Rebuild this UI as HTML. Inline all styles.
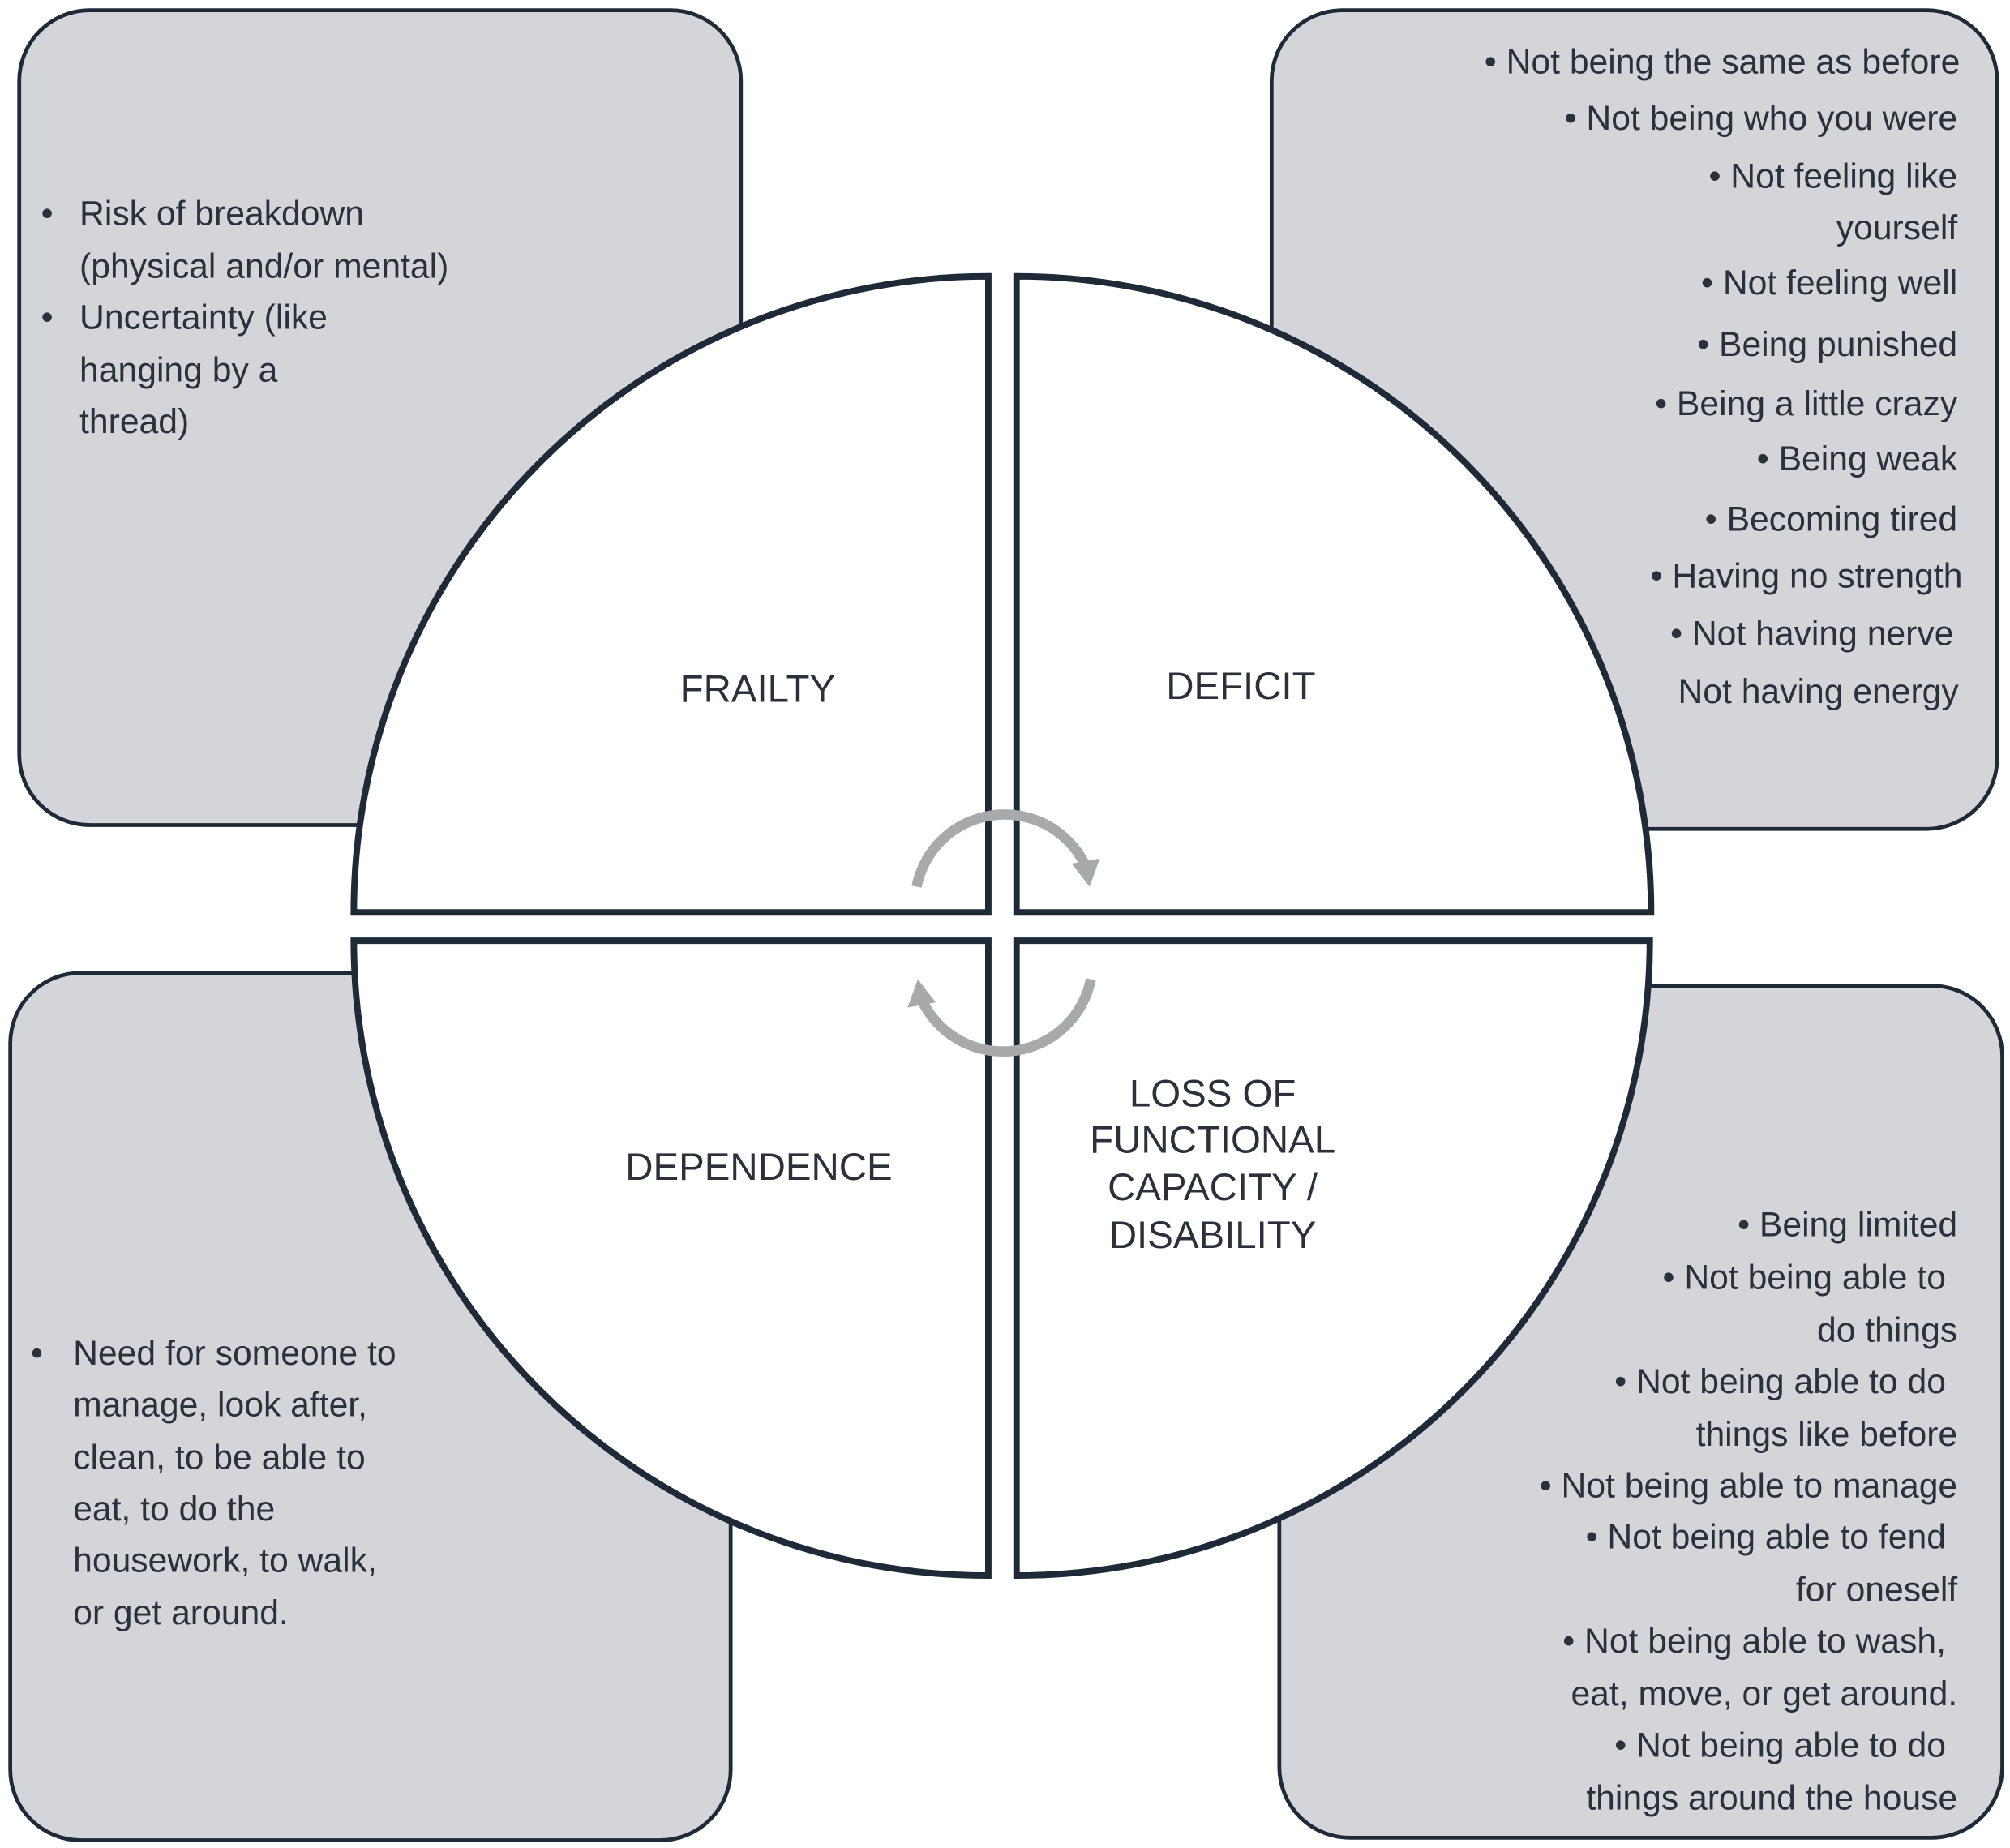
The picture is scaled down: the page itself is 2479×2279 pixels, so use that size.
<!DOCTYPE html>
<html><head><meta charset="utf-8"><style>
html,body{margin:0;padding:0;background:#fff;}
svg{display:block;}
text{font-family:"Liberation Sans",sans-serif;fill:#2b303a;}
</style></head><body>
<svg width="2479" height="2279" viewBox="0 0 1568 1438" preserveAspectRatio="none" xmlns="http://www.w3.org/2000/svg">
<rect width="1568" height="1438" fill="#fff"/>
<g fill="#d4d5d8" stroke="#1e2a38" stroke-width="3">
<rect x="15" y="8" width="563" height="634" rx="55"/>
<rect x="992" y="8" width="566" height="637" rx="55"/>
<rect x="8" y="757" width="562" height="675" rx="55"/>
<rect x="998" y="767" width="564" height="663" rx="55"/>
</g>
<g fill="#fff" stroke="#1e2a38" stroke-width="5" stroke-linejoin="miter">
<path d="M771 710 L276 710 A495 495 0 0 1 771 215 Z"/>
<path d="M793 710 L793 215 A495 495 0 0 1 1288 710 Z"/>
<path d="M771 732 L276 732 A494 494 0 0 0 771 1226 Z"/>
<path d="M793 732 L793 1226 A494 494 0 0 0 1287 732 Z"/>
</g>
<g fill="none" stroke="#a8a9ab" stroke-width="8">
<path d="M715 690 A70 70 0 0 1 846 672"/>
<path d="M851 762 A70 70 0 0 1 720 780"/>
</g>
<g fill="#a8a9ab">
<polygon points="836,672 858,668 850,690"/>
<polygon points="730,780 708,784 716,762"/>
</g>
<g font-size="30" text-anchor="middle">
<text x="591" y="546">FRAILTY</text>
<text x="968" y="544">DEFICIT</text>
<text x="592" y="918">DEPENDENCE</text>
<text x="946" y="861">LOSS OF</text>
<text x="946" y="897">FUNCTIONAL</text>
<text x="946" y="934">CAPACITY /</text>
<text x="946" y="971">DISABILITY</text>
</g>
<g font-size="27">
<text x="32" y="175">•</text><text x="62" y="175">Risk of breakdown</text>
<text x="62" y="216">(physical and/or mental)</text>
<text x="32" y="256">•</text><text x="62" y="256">Uncertainty (like</text>
<text x="62" y="297">hanging by a</text>
<text x="62" y="337">thread)</text>
<text x="24" y="1062">•</text><text x="57" y="1062">Need for someone to</text>
<text x="57" y="1102">manage, look after,</text>
<text x="57" y="1143">clean, to be able to</text>
<text x="57" y="1183">eat, to do the</text>
<text x="57" y="1223">housework, to walk,</text>
<text x="57" y="1264">or get around.</text>
</g>
<g font-size="27" text-anchor="end">
<text x="1529" y="57">• Not being the same as before</text>
<text x="1527" y="101">• Not being who you were</text>
<text x="1527" y="146">• Not feeling like</text>
<text x="1527" y="186">yourself</text>
<text x="1527" y="229">• Not feeling well</text>
<text x="1527" y="277">• Being punished</text>
<text x="1527" y="323">• Being a little crazy</text>
<text x="1527" y="366">• Being weak</text>
<text x="1527" y="413">• Becoming tired</text>
<text x="1531" y="457">• Having no strength</text>
<text x="1524" y="502">• Not having nerve</text>
<text x="1528" y="547">Not having energy</text>
<text x="1527" y="962">• Being limited</text>
<text x="1518" y="1003">• Not being able to</text>
<text x="1527" y="1044">do things</text>
<text x="1518" y="1084">• Not being able to do</text>
<text x="1527" y="1125">things like before</text>
<text x="1527" y="1165">• Not being able to manage</text>
<text x="1518" y="1205">• Not being able to fend</text>
<text x="1527" y="1246">for oneself</text>
<text x="1518" y="1286">• Not being able to wash,</text>
<text x="1527" y="1327">eat, move, or get around.</text>
<text x="1518" y="1367">• Not being able to do</text>
<text x="1527" y="1408">things around the house</text>
</g>
</svg>
</body></html>
